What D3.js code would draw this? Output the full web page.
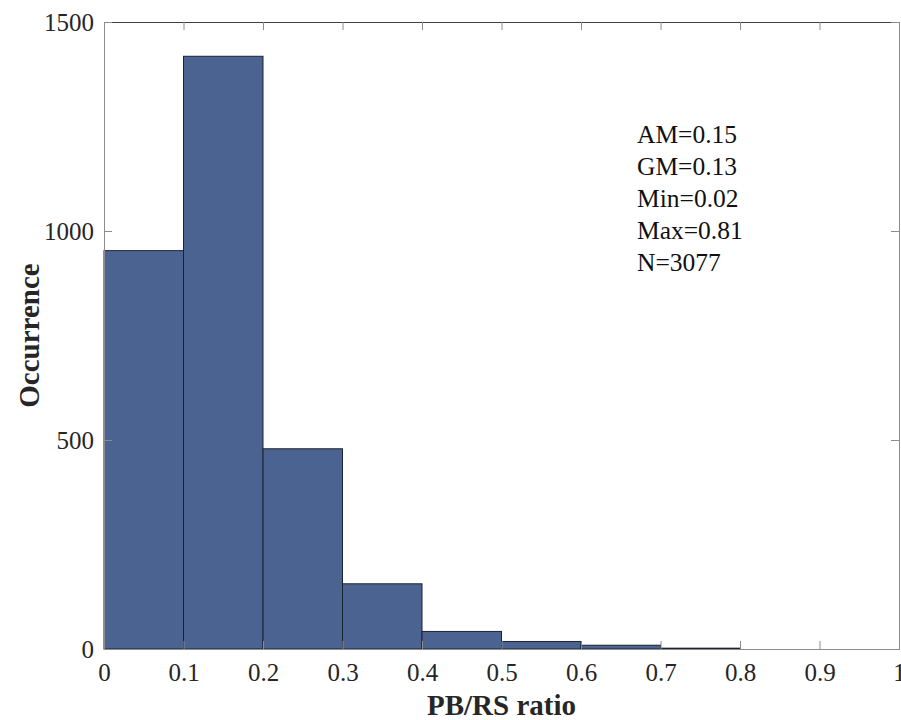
<!DOCTYPE html>
<html><head><meta charset="utf-8">
<script src="https://cdn.jsdelivr.net/npm/d3@7"></script>
<style>body{margin:0;background:#fff;} svg{display:block;} text{font-family:'Liberation Serif','Times New Roman',serif;}</style>
</head><body>
<svg id="c" width="901" height="720"></svg>
<script>
const binEdges = [0, 0.1, 0.2, 0.3, 0.4, 0.5, 0.6, 0.7, 0.8];
const counts = [953, 1418, 479, 156, 42, 18, 9, 2];
const xTicks = [0, 0.1, 0.2, 0.3, 0.4, 0.5, 0.6, 0.7, 0.8, 0.9, 1];
const yTicks = [0, 500, 1000, 1500];
const stats = ["AM=0.15", "GM=0.13", "Min=0.02", "Max=0.81", "N=3077"];

const svg = d3.select("#c");
const L = 104, R = 899, T = 22, B = 649;
const x = d3.scaleLinear().domain([0, 1]).range([L, R]);
const y = d3.scaleLinear().domain([0, 1500]).range([B, T]);

const bins = counts.map((c, i) => ({x0: binEdges[i], x1: binEdges[i+1], c}));
svg.append("g").selectAll("rect").data(bins).join("rect")
  .attr("x", d => x(d.x0)).attr("width", d => x(d.x1) - x(d.x0))
  .attr("y", d => y(d.c)).attr("height", d => y(0) - y(d.c))
  .attr("fill", "#4b6391").attr("stroke", "#1c2230").attr("stroke-width", 1);

const axc = "#8c8c8c";
function styleTicks(g) {
  g.attr("font-family", null).attr("font-size", null);
  g.selectAll("text").style("font-family", "'Liberation Serif','Times New Roman',serif")
    .style("font-size", "25px").attr("fill", "#262626");
}
// bottom axis
const gx = svg.append("g").attr("transform", `translate(0,${B})`)
  .call(d3.axisBottom(x).tickValues(xTicks).tickSize(-8).tickPadding(14).tickFormat(d3.format("")));
gx.select(".domain").attr("stroke", axc);
gx.selectAll(".tick line").attr("stroke", axc);
styleTicks(gx);
// top axis
const gt = svg.append("g").attr("transform", `translate(0,${T})`)
  .call(d3.axisTop(x).tickValues(xTicks).tickSize(-8).tickFormat(""));
gt.select(".domain").attr("stroke", "#404040");
gt.selectAll(".tick line").attr("stroke", axc);
// left axis
const gy = svg.append("g").attr("transform", `translate(${L},0)`)
  .call(d3.axisLeft(y).tickValues(yTicks).tickSize(-8).tickPadding(10).tickFormat(d3.format("")));
gy.select(".domain").attr("stroke", axc);
gy.selectAll(".tick line").attr("stroke", axc);
styleTicks(gy);
// right axis
const gr = svg.append("g").attr("transform", `translate(${R},0)`)
  .call(d3.axisRight(y).tickValues(yTicks).tickSize(-8).tickFormat(""));
gr.select(".domain").attr("stroke", axc);
gr.selectAll(".tick line").attr("stroke", axc);

svg.append("text").attr("x", (L + R) / 2).attr("y", 715).attr("text-anchor", "middle")
  .style("font-size", "29px").attr("font-weight", "bold").attr("fill", "#262626")
  .text("PB/RS ratio");
svg.append("text").attr("transform", `translate(39,${(T + B) / 2}) rotate(-90)`).attr("text-anchor", "middle")
  .style("font-size", "29px").attr("font-weight", "bold").attr("fill", "#262626")
  .text("Occurrence");

svg.append("g").selectAll("text").data(stats).join("text")
  .attr("x", 637).attr("y", (d, i) => 143 + i * 32)
  .style("font-size", "25.5px").attr("fill", "#111")
  .text(d => d);
</script>
</body></html>
